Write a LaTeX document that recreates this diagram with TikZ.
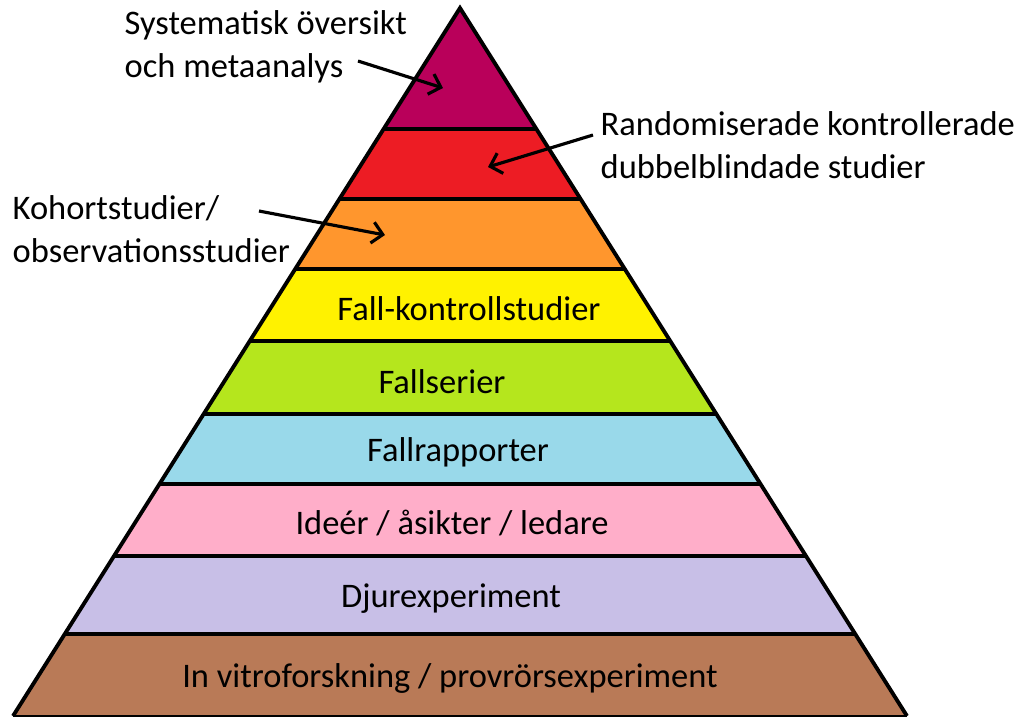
\documentclass[tikz,border=0pt]{standalone}
\usepackage{fontspec}
\setmainfont{Carlito}
\usetikzlibrary{arrows.meta}

\definecolor{sysband}{RGB}{185,0,90}
\definecolor{rctband}{RGB}{237,28,36}
\definecolor{kohband}{RGB}{255,150,45}
\definecolor{fkband}{RGB}{255,242,0}
\definecolor{fsband}{RGB}{181,230,29}
\definecolor{frband}{RGB}{153,217,234}
\definecolor{idband}{RGB}{255,174,201}
\definecolor{djband}{RGB}{200,191,231}
\definecolor{ivband}{RGB}{185,122,87}

\tikzset{
  lbl/.style={font=\fontsize{9.8}{12.2}\selectfont, inner sep=0pt},
  outlbl/.style={lbl, anchor=west, align=left},
  pointer/.style={-{Straight Barb[length=3pt,width=6pt]}, line width=0.9pt},
  edge/.style={line width=1.1pt},
}

\begin{document}
\begin{tikzpicture}[x=0.01cm, y=-0.01cm]
  \useasboundingbox (0,0) rectangle (1015,717);

  % bands, top to bottom
  \foreach \ya/\yb/\col in {8/129/sysband, 129/199/rctband, 199/269/kohband,
      269/341/fkband, 341/414/fsband, 414/484/frband, 484/556/idband,
      556/634/djband, 634/716/ivband} {
    \fill[\col] ({460-0.6314*(\ya-8)},\ya) -- ({460+0.6314*(\ya-8)},\ya)
      -- ({460+0.6314*(\yb-8)},\yb) -- ({460-0.6314*(\yb-8)},\yb) -- cycle;
  }
  \foreach \y in {129,199,269,341,414,484,556,634} {
    \draw[edge] ({460-0.6314*(\y-8)},\y) -- ({460+0.6314*(\y-8)},\y);
  }
  \draw[edge] (13,716) -- (460,8) -- (907,716);
  \draw[line width=0.4pt] (13,716) -- (907,716);

  % labels inside
  \node[lbl] (fallkontroll) at (469,309) {Fall-kontrollstudier};
  \node[lbl] (fallserier) at (442,382) {Fallserier};
  \node[lbl] (fallrapp) at (458,452) {Fallrapporter};
  \node[lbl] (ideer) at (452,523) {Ideér / åsikter / ledare};
  \node[lbl] (djur) at (451,599) {Djurexperiment};
  \node[lbl] (invitro) at (450,678) {In vitroforskning / provrörsexperiment};

  % labels outside
  \node[outlbl] (sys) at (124,47) {Systematisk översikt\\och metaanalys};
  \node[outlbl] (rct) at (600,145) {Randomiserade kontrollerade\\dubbelblindade studier};
  \node[outlbl] (koh) at (12,229) {Kohortstudier/\\observationsstudier};

  \coordinate (sysTail) at (358,61);
  \coordinate (sysTip) at (443,88);
  \coordinate (rctTail) at (593,135);
  \coordinate (rctTip) at (488,167);
  \coordinate (kohTail) at (259,211);
  \coordinate (kohTip) at (385,235);

  \draw[pointer] (sysTail) -- (sysTip);
  \draw[pointer] (rctTail) -- (rctTip);
  \draw[pointer] (kohTail) -- (kohTip);
\end{tikzpicture}
\end{document}
